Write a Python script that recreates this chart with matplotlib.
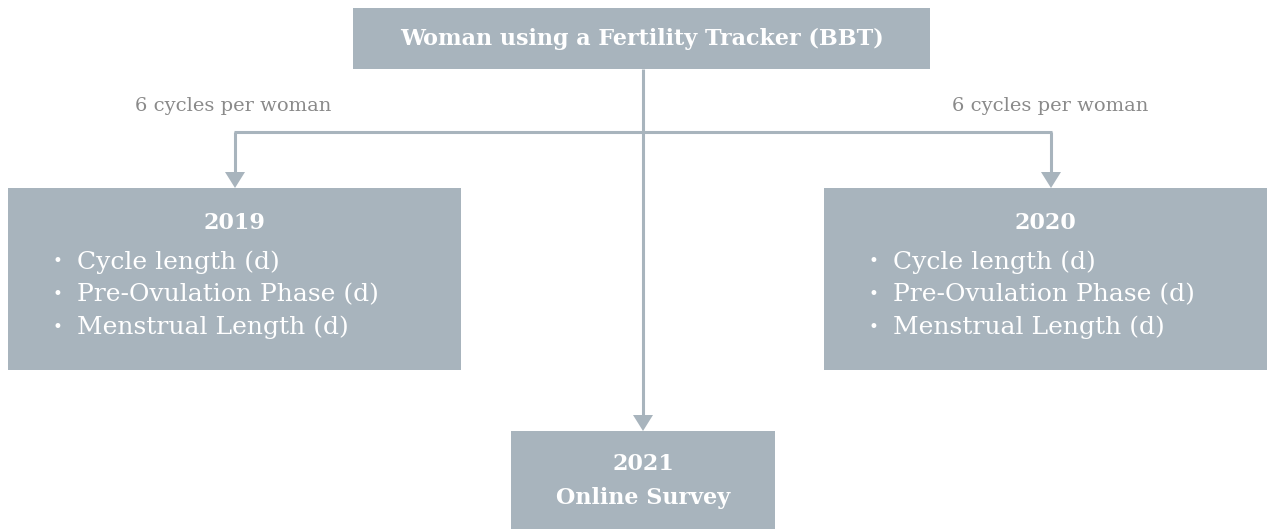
import matplotlib.pyplot as plt
from matplotlib.patches import Rectangle, Polygon

# diagram content
top_label = "Woman using a Fertility Tracker (BBT)"
branch_label = "6 cycles per woman"
year_left = "2019"
year_right = "2020"
measures = ["Cycle length (d)", "Pre-Ovulation Phase (d)", "Menstrual Length (d)"]
survey_year = "2021"
survey_label = "Online Survey"

BOX = '#a8b4bd'
LINE = '#a8b4bd'
GREY_TXT = '#8a8a8a'
FONT = 'DejaVu Serif'
W, H = 1274, 529

fig = plt.figure(figsize=(W / 100, H / 100), dpi=100)
ax = fig.add_axes([0, 0, 1, 1])
ax.set_xlim(0, W)
ax.set_ylim(H, 0)
ax.axis('off')


def box(x0, y0, x1, y1):
    ax.add_patch(Rectangle((x0, y0), x1 - x0, y1 - y0, facecolor=BOX,
                           edgecolor='none', zorder=1))


def arrow_down(x, y0, y1, head_w=20, head_h=16):
    ax.plot([x, x], [y0, y1 - head_h + 1], color=LINE, lw=2.2,
            solid_capstyle='butt', zorder=2)
    ax.add_patch(Polygon([(x - head_w / 2, y1 - head_h), (x + head_w / 2, y1 - head_h),
                          (x, y1)], closed=True, facecolor=LINE,
                         edgecolor='none', zorder=2))


# top box
box(353, 8, 930, 69)
ax.text(642, 39, top_label, ha='center', va='center', color='white',
        fontsize=16, fontweight='bold', family=FONT, zorder=3)

# connectors
xl, xc, xr = 235, 643, 1051
ybar = 132
ax.plot([xl - 1, xr + 1], [ybar, ybar], color=LINE, lw=2.2, solid_capstyle='butt', zorder=2)
arrow_down(xl, ybar, 188)
arrow_down(xr, ybar, 188)
arrow_down(xc, 69, 431)

ax.text(233, 106, branch_label, ha='center', va='center', color=GREY_TXT,
        fontsize=14, family=FONT)
ax.text(1050, 106, branch_label, ha='center', va='center', color=GREY_TXT,
        fontsize=14, family=FONT)

# year boxes with bullet lists
for (x0, x1, year) in [(8, 461, year_left), (824, 1267, year_right)]:
    box(x0, 188, x1, 370)
    cx = (x0 + x1) / 2
    ax.text(cx, 223, year, ha='center', va='center', color='white',
            fontsize=16, fontweight='bold', family=FONT, zorder=3)
    for i, m in enumerate(measures):
        y = 262 + i * 32.5
        ax.text(x0 + 49, y, u"\u2022", ha='center', va='center', color='white',
                fontsize=12, family=FONT, zorder=3)
        ax.text(x0 + 69, y, m, ha='left', va='center', color='white',
                fontsize=18, family=FONT, zorder=3)

# survey box
box(511, 431, 775, 540)
ax.text(643, 464, survey_year, ha='center', va='center', color='white',
        fontsize=16, fontweight='bold', family=FONT, zorder=3)
ax.text(643, 498, survey_label, ha='center', va='center', color='white',
        fontsize=16, fontweight='bold', family=FONT, zorder=3)

fig.savefig('out.png', dpi=100, facecolor='white')
